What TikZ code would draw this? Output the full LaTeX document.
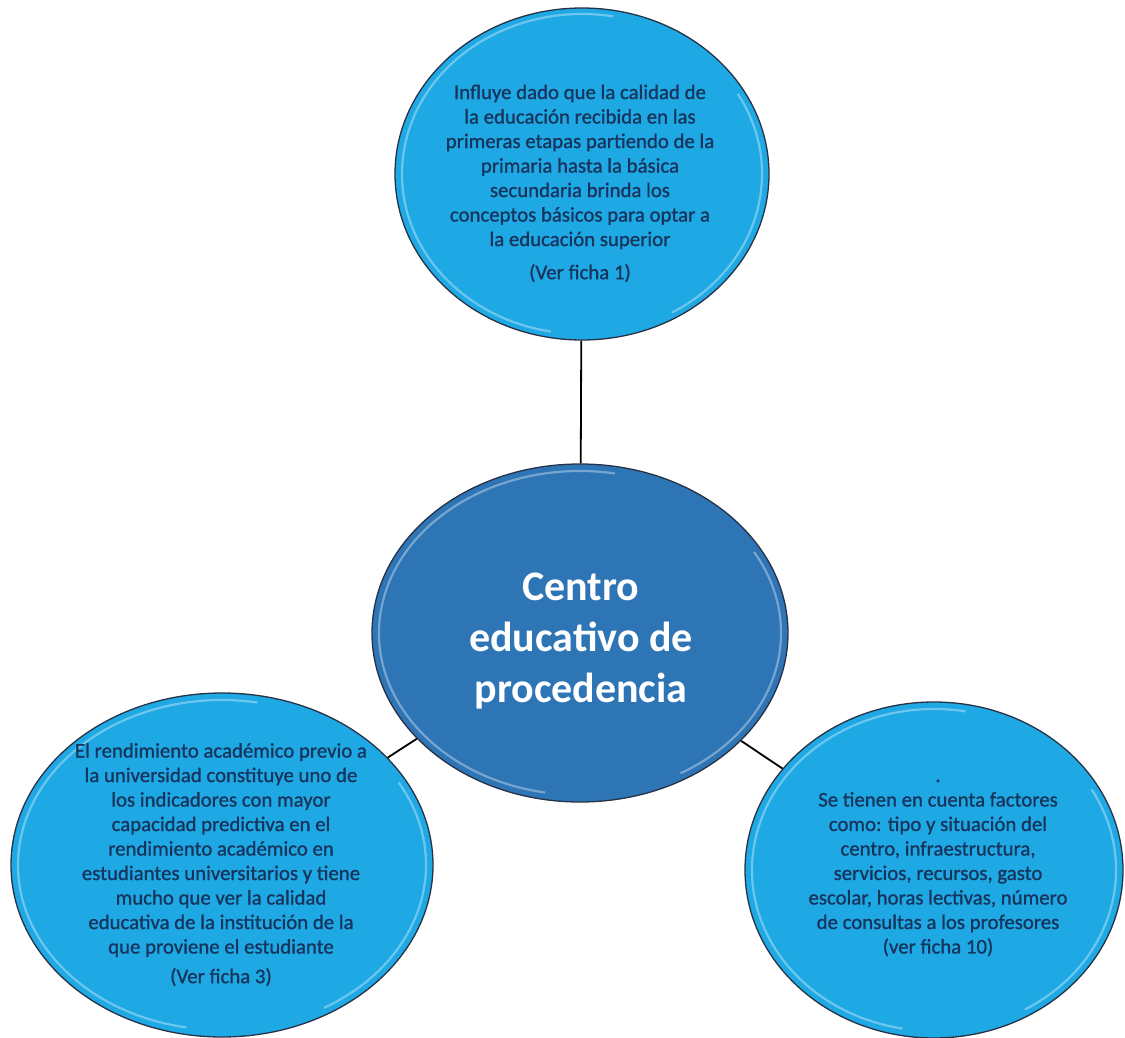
\documentclass[tikz,border=0pt]{standalone}
\usepackage{fontspec}
\setmainfont{Carlito}
\newfontfamily\heavyfont[FakeBold=0.9]{Carlito}
\usetikzlibrary{shapes.geometric}
\definecolor{lightblu}{RGB}{30,168,228}
\definecolor{darkblu}{RGB}{46,117,182}
\definecolor{navytext}{RGB}{22,52,92}
\definecolor{rimcol}{RGB}{40,50,70}
\tikzset{
  bubble/.style={ellipse, draw=rimcol, line width=1.3pt, fill=lightblu, inner sep=0pt},
  hub/.style={ellipse, draw=rimcol, line width=1.3pt, fill=darkblu, inner sep=0pt},
  gloss/.style={draw=white, opacity=0.35, line width=2.2pt},
  smalltxt/.style={align=center, text=navytext, font=\heavyfont\fontsize{20.8}{24.5}\selectfont, inner sep=0pt},
  bigtxt/.style={align=center, text=white, font=\fontsize{42}{51}\selectfont\bfseries, inner sep=0pt},
  link/.style={draw=black, line width=1.8pt}
}
\begin{document}
\begin{tikzpicture}[x=1pt,y=-1pt]
\useasboundingbox[fill=white] (0,0) rectangle (1125,1038);
% shapes
\node[bubble, minimum width=374pt, minimum height=332pt] (top) at (582,174) {};
\node[hub, minimum width=416pt, minimum height=338pt] (hub) at (580,633) {};
\node[bubble, minimum width=422pt, minimum height=344pt] (left) at (222,865) {};
\node[bubble, minimum width=378pt, minimum height=336pt] (right) at (934,870) {};
% gloss rims
\draw[gloss] (582,174) ++(100:180 and 160) arc[start angle=100, end angle=280, x radius=180, y radius=160];
\draw[gloss] (582,174) ++(-30:180 and 160) arc[start angle=-30, end angle=60, x radius=180, y radius=160];
\draw[gloss] (580,633) ++(100:201 and 162) arc[start angle=100, end angle=280, x radius=201, y radius=162];
\draw[gloss] (580,633) ++(-30:201 and 162) arc[start angle=-30, end angle=60, x radius=201, y radius=162];
\draw[gloss] (222,865) ++(100:204 and 165) arc[start angle=100, end angle=280, x radius=204, y radius=165];
\draw[gloss] (222,865) ++(-30:204 and 165) arc[start angle=-30, end angle=60, x radius=204, y radius=165];
\draw[gloss] (934,870) ++(100:182 and 161) arc[start angle=100, end angle=280, x radius=182, y radius=161];
\draw[gloss] (934,870) ++(-30:182 and 161) arc[start angle=-30, end angle=60, x radius=182, y radius=161];
% connectors
\draw[link] (top) -- (hub);
\draw[link] (left) -- (hub);
\draw[link] (right) -- (hub);
% texts
\node[smalltxt] (toptxt) at (580,167) {Influye dado que la calidad de\\la educación recibida en las\\primeras etapas partiendo de la\\primaria hasta la básica\\secundaria brinda los\\conceptos básicos para optar a\\la educación superior};
\node[smalltxt] (topref) at (580,273) {(Ver ficha 1)};
\node[bigtxt] (hubtxt) at (581,641) {Centro\\educativo de\\procedencia};
\node[smalltxt] (lefttxt) at (221,850) {El rendimiento académico previo a\\la universidad constituye uno de\\los indicadores con mayor\\capacidad predictiva en el\\rendimiento académico en\\estudiantes universitarios y tiene\\mucho que ver la calidad\\educativa de la institución de la\\que proviene el estudiante};
\node[smalltxt] (leftref) at (221,977) {(Ver ficha 3)};
\node[smalltxt] (righttxt) at (938,868) {.\\Se tienen en cuenta factores\\como: tipo y situación del\\centro, infraestructura,\\servicios, recursos, gasto\\escolar, horas lectivas, número\\de consultas a los profesores\\(ver ficha 10)};
\end{tikzpicture}
\end{document}
